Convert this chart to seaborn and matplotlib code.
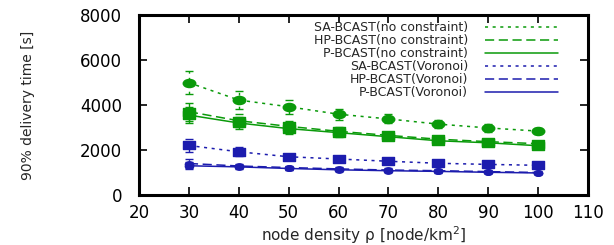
import numpy as np
import pandas as pd
import seaborn as sns
import matplotlib.pyplot as plt
from matplotlib.path import Path

# node density (x axis)
density = [30, 40, 50, 60, 70, 80, 90, 100]

# 90% delivery time [s]
sa_nc = [4990, 4220, 3920, 3590, 3380, 3150, 2980, 2840]
hp_nc = [3700, 3300, 3050, 2830, 2650, 2480, 2370, 2280]
p_nc = [3550, 3200, 2950, 2770, 2590, 2410, 2320, 2190]
sa_vor = [2200, 1920, 1700, 1600, 1500, 1410, 1360, 1320]
hp_vor = [1400, 1290, 1220, 1160, 1110, 1080, 1040, 1000]
p_vor = [1300, 1250, 1180, 1120, 1080, 1050, 1010, 980]

# error bar half-widths
sa_nc_err = [500, 420, 300, 250, 200, 180, 160, 150]
hp_nc_err = [400, 300, 250, 200, 160, 150, 130, 120]
p_nc_err = [350, 260, 220, 180, 150, 130, 120, 110]
sa_vor_err = [300, 200, 100, 90, 80, 70, 70, 60]
hp_vor_err = [200, 110, 90, 80, 70, 60, 60, 60]
p_vor_err = [150, 90, 80, 70, 60, 60, 50, 50]

labels = ['SA-BCAST(no constraint)', 'HP-BCAST(no constraint)', 'P-BCAST(no constraint)',
          'SA-BCAST(Voronoi)', 'HP-BCAST(Voronoi)', 'P-BCAST(Voronoi)']
values = [sa_nc, hp_nc, p_nc, sa_vor, hp_vor, p_vor]
errors = [sa_nc_err, hp_nc_err, p_nc_err, sa_vor_err, hp_vor_err, p_vor_err]

# the original graphic is stretched sideways, so markers are wide too
circle = Path.unit_circle()
ellipse = Path(circle.vertices * [1, 0.65], circle.codes)
rect = Path([(-1, -0.6), (1, -0.6), (1, 0.6), (-1, 0.6), (-1, -0.6)],
            [Path.MOVETO, Path.LINETO, Path.LINETO, Path.LINETO, Path.CLOSEPOLY])

green = '#0a9a0a'
blue = '#1c1cae'
colors = [green, green, green, blue, blue, blue]
dashes = [(0, (2, 3)), (0, (6, 3)), '-', (0, (2, 3)), (0, (6, 3)), '-']
markers = [ellipse, rect, rect, rect, ellipse, ellipse]
msizes = [9, 9, 9, 9, 6, 6]

df = pd.DataFrame({
    'density': density * len(labels),
    'time': np.concatenate(values),
    'series': np.repeat(labels, len(density)),
})

sns.set_style('ticks')
plt.rcParams['font.family'] = ['DejaVu Sans']

fig = plt.figure(figsize=(6.14, 2.45), dpi=100)
ax = fig.add_axes([0.2264, 0.204, 0.7313, 0.735])

for i, lab in enumerate(labels):
    sub = df[df['series'] == lab]
    sns.lineplot(data=sub, x='density', y='time', ax=ax, color=colors[i],
                 linewidth=1.1, label=lab)
    ax.lines[-1].set_linestyle(dashes[i])

for i, lab in enumerate(labels):
    eb = ax.errorbar(density, values[i], yerr=errors[i], fmt='none',
                     color=colors[i], elinewidth=1, capsize=3, capthick=1, zorder=3)
    for c in eb[2]:
        c.set_linestyle(dashes[i])
    ax.plot(density, values[i], linestyle='none', marker=markers[i],
            ms=msizes[i], color=colors[i], zorder=4)

ax.set_xlim(20, 110)
ax.set_ylim(0, 8000)
ax.set_xticks(range(20, 111, 10))
ax.set_yticks(range(0, 8001, 2000))
ax.set_xlabel('node density ρ [node/km$^2$]', fontsize=11)
ax.set_ylabel('90% delivery time [s]', fontsize=10)
ax.xaxis.set_label_coords(0.5, -0.16)
ax.yaxis.set_label_coords(-0.232, 0.5)
ax.tick_params(direction='in', length=6, width=1.2, labelsize=12,
               top=True, right=True, colors='black', labelcolor='black')
ax.tick_params(axis='x', pad=6.5)
ax.tick_params(axis='y', pad=12)
for s in ax.spines.values():
    s.set_linewidth(2.2)
    s.set_color('black')

ax.legend(loc='upper right', frameon=False, markerfirst=False, fontsize=9,
          handlelength=5.8, handletextpad=1.4, labelspacing=0.0,
          borderpad=0, borderaxespad=0, bbox_to_anchor=(0.933, 0.965))

fig.savefig('out.png', dpi=100)
